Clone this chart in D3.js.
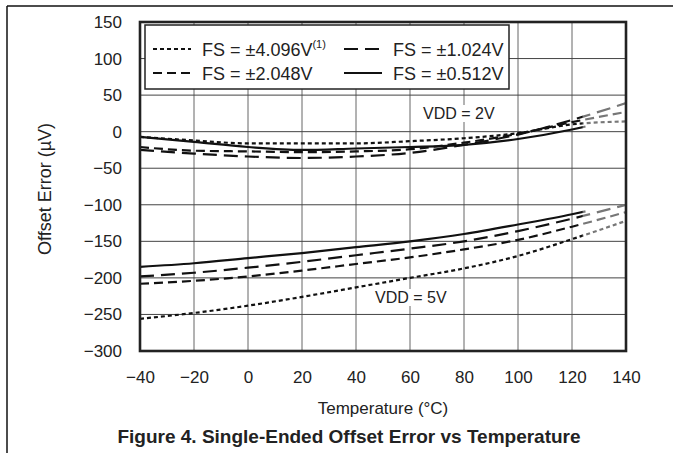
<!DOCTYPE html>
<html>
<head>
<meta charset="utf-8">
<script src="https://cdn.jsdelivr.net/npm/d3@7"></script>
<style>
  body { margin: 0; background: #fff; }
  svg text { font-family: "Liberation Sans", Arial, sans-serif; fill: #222; }
</style>
</head>
<body>
<div id="chart"></div>
<script>
var w = 673;
var h = 453;

// temperatures (°C)
var temps = [-40, -20, 0, 20, 40, 60, 80, 100, 120, 140];
var tempsSolid = [-40, -20, 0, 20, 40, 60, 80, 100, 120, 125];

// VDD = 2V, offset error (µV)
var vdd2_fs4096 = [-7, -12, -16, -16, -16, -13, -9, -2, 10, 14];
var vdd2_fs2048 = [-21, -26, -27, -28, -27, -24, -15, -3, 13, 27];
var vdd2_fs1024 = [-25, -30, -34, -36, -34, -29, -18, -4, 16, 39];
var vdd2_fs0512 = [-7, -14, -21, -25, -23, -21, -18, -10, 3, 7];

// VDD = 5V, offset error (µV)
var vdd5_fs4096 = [-256, -248, -238, -226, -213, -200, -187, -170, -147, -122];
var vdd5_fs2048 = [-208, -204, -198, -190, -181, -172, -161, -148, -130, -110];
var vdd5_fs1024 = [-198, -193, -186, -178, -169, -160, -150, -136, -119, -100];
var vdd5_fs0512 = [-185, -180, -173, -166, -158, -150, -140, -127, -113, -109];

var xTicks = [-40, -20, 0, 20, 40, 60, 80, 100, 120, 140];
var yTicks = [150, 100, 50, 0, -50, -100, -150, -200, -250, -300];

var legendLabels = ['FS = \u00b14.096V', 'FS = \u00b12.048V', 'FS = \u00b11.024V', 'FS = \u00b10.512V'];

var dashes = {
    fs4096: '4,3',
    fs2048: '9,5',
    fs1024: '14,7',
    fs0512: null
};

var pLeft = 140, pRight = 626, pTop = 22, pBottom = 351;
var greyFrom = 124;

var x = d3.scaleLinear().domain([-40, 140]).range([pLeft, pRight]);
var y = d3.scaleLinear().domain([-300, 150]).range([pBottom, pTop]);

var svg = d3.select('#chart').append('svg')
    .attr('width', w)
    .attr('height', h);

// page frame lines
svg.append('line').attr('x1', 7).attr('x2', w).attr('y1', 6).attr('y2', 6)
    .attr('stroke', '#111').attr('stroke-width', 1.5);
svg.append('line').attr('x1', 7).attr('x2', 7).attr('y1', 6).attr('y2', h)
    .attr('stroke', '#111').attr('stroke-width', 1.5);

// grid
svg.append('g').selectAll('line')
    .data(xTicks)
    .enter()
    .append('line')
    .attr('x1', function(d) { return x(d); })
    .attr('x2', function(d) { return x(d); })
    .attr('y1', pTop).attr('y2', pBottom)
    .attr('stroke', '#666').attr('stroke-width', 1);
svg.append('g').selectAll('line')
    .data(yTicks)
    .enter()
    .append('line')
    .attr('x1', pLeft).attr('x2', pRight)
    .attr('y1', function(d) { return y(d); })
    .attr('y2', function(d) { return y(d); })
    .attr('stroke', '#444').attr('stroke-width', 1);

// axes (labels only)
var fmt = function(d) { return d < 0 ? '\u2212' + Math.abs(d) : '' + d; };
var xAxis = svg.append('g')
    .attr('transform', 'translate(0,' + pBottom + ')')
    .call(d3.axisBottom(x).tickValues(xTicks).tickFormat(fmt).tickSize(0).tickPadding(20));
var yAxis = svg.append('g')
    .attr('transform', 'translate(' + pLeft + ',0)')
    .call(d3.axisLeft(y).tickValues(yTicks).tickFormat(fmt).tickSize(0).tickPadding(18));
[xAxis, yAxis].forEach(function(a) {
    a.select('.domain').remove();
    a.selectAll('text')
        .style('font-family', '"Liberation Sans", Arial, sans-serif')
        .style('font-size', '17px')
        .attr('fill', '#222');
});

// clip regions for black / grey parts
var defs = svg.append('defs');
defs.append('clipPath').attr('id', 'clipBlack').append('rect')
    .attr('x', pLeft).attr('y', pTop).attr('width', x(greyFrom) - pLeft).attr('height', pBottom - pTop);
defs.append('clipPath').attr('id', 'clipGrey').append('rect')
    .attr('x', x(greyFrom)).attr('y', pTop).attr('width', pRight - x(greyFrom)).attr('height', pBottom - pTop);

var line = d3.line()
    .x(function(d) { return x(d[0]); })
    .y(function(d) { return y(d[1]); })
    .curve(d3.curveMonotoneX);

var series = [
    { t: temps, v: vdd2_fs4096, dash: dashes.fs4096 },
    { t: temps, v: vdd2_fs2048, dash: dashes.fs2048 },
    { t: temps, v: vdd2_fs1024, dash: dashes.fs1024 },
    { t: tempsSolid, v: vdd2_fs0512, dash: dashes.fs0512 },
    { t: temps, v: vdd5_fs4096, dash: dashes.fs4096 },
    { t: temps, v: vdd5_fs2048, dash: dashes.fs2048 },
    { t: temps, v: vdd5_fs1024, dash: dashes.fs1024 },
    { t: tempsSolid, v: vdd5_fs0512, dash: dashes.fs0512 }
];

[['clipGrey', '#777'], ['clipBlack', '#111']].forEach(function(c) {
    svg.append('g')
        .attr('clip-path', 'url(#' + c[0] + ')')
        .selectAll('path')
        .data(series)
        .enter()
        .append('path')
        .attr('d', function(s) { return line(s.t.map(function(t, i) { return [t, s.v[i]]; })); })
        .attr('fill', 'none')
        .attr('stroke', c[1])
        .attr('stroke-width', 2.2)
        .attr('stroke-dasharray', function(s) { return s.dash; });
});

// VDD annotations with white background
function note(tx, ty, txt) {
    var g = svg.append('g');
    var t = g.append('text')
        .attr('x', tx).attr('y', ty)
        .style('font-size', '16px')
        .text(txt);
    var b = t.node().getBBox();
    g.insert('rect', 'text')
        .attr('x', b.x - 3).attr('y', b.y)
        .attr('width', b.width + 6).attr('height', b.height)
        .attr('fill', '#fff');
}
note(423, 119, 'VDD = 2V');
note(375, 303, 'VDD = 5V');

// legend
var lg = svg.append('g');
lg.append('rect')
    .attr('x', 145).attr('y', 25).attr('width', 364).attr('height', 64)
    .attr('fill', '#fff').attr('stroke', '#222').attr('stroke-width', 1.5);
var legendItems = [
    { label: legendLabels[0], dash: dashes.fs4096, cx: 153, cy: 49, sup: true },
    { label: legendLabels[1], dash: dashes.fs2048, cx: 153, cy: 73 },
    { label: legendLabels[2], dash: dashes.fs1024, cx: 344, cy: 49 },
    { label: legendLabels[3], dash: dashes.fs0512, cx: 344, cy: 73 }
];
legendItems.forEach(function(d) {
    lg.append('line')
        .attr('x1', d.cx).attr('x2', d.cx + 38)
        .attr('y1', d.cy).attr('y2', d.cy)
        .attr('stroke', '#111').attr('stroke-width', 2.2)
        .attr('stroke-dasharray', d.dash);
    var t = lg.append('text')
        .attr('x', d.cx + 49).attr('y', d.cy + 7)
        .style('font-size', '18px')
        .text(d.label);
    if (d.sup) {
        t.append('tspan').attr('dy', -8).style('font-size', '11px').text('(1)');
    }
});

// plot frame
svg.append('rect')
    .attr('x', pLeft).attr('y', pTop)
    .attr('width', pRight - pLeft).attr('height', pBottom - pTop)
    .attr('fill', 'none').attr('stroke', '#222').attr('stroke-width', 2.6);

// axis titles
svg.append('text')
    .attr('x', (pLeft + pRight) / 2).attr('y', 414)
    .attr('text-anchor', 'middle')
    .style('font-size', '17px')
    .text('Temperature (\u00b0C)');
svg.append('text')
    .attr('transform', 'translate(51,' + 189 + ') rotate(-90)')
    .attr('text-anchor', 'middle')
    .style('font-size', '18px')
    .text('Offset Error (\u00b5V)');

// caption
svg.append('text')
    .attr('x', 349).attr('y', 443)
    .attr('text-anchor', 'middle')
    .style('font-size', '19px')
    .style('font-weight', 'bold')
    .attr('fill', '#111')
    .text('Figure 4. Single-Ended Offset Error vs Temperature');
</script>
</body>
</html>
